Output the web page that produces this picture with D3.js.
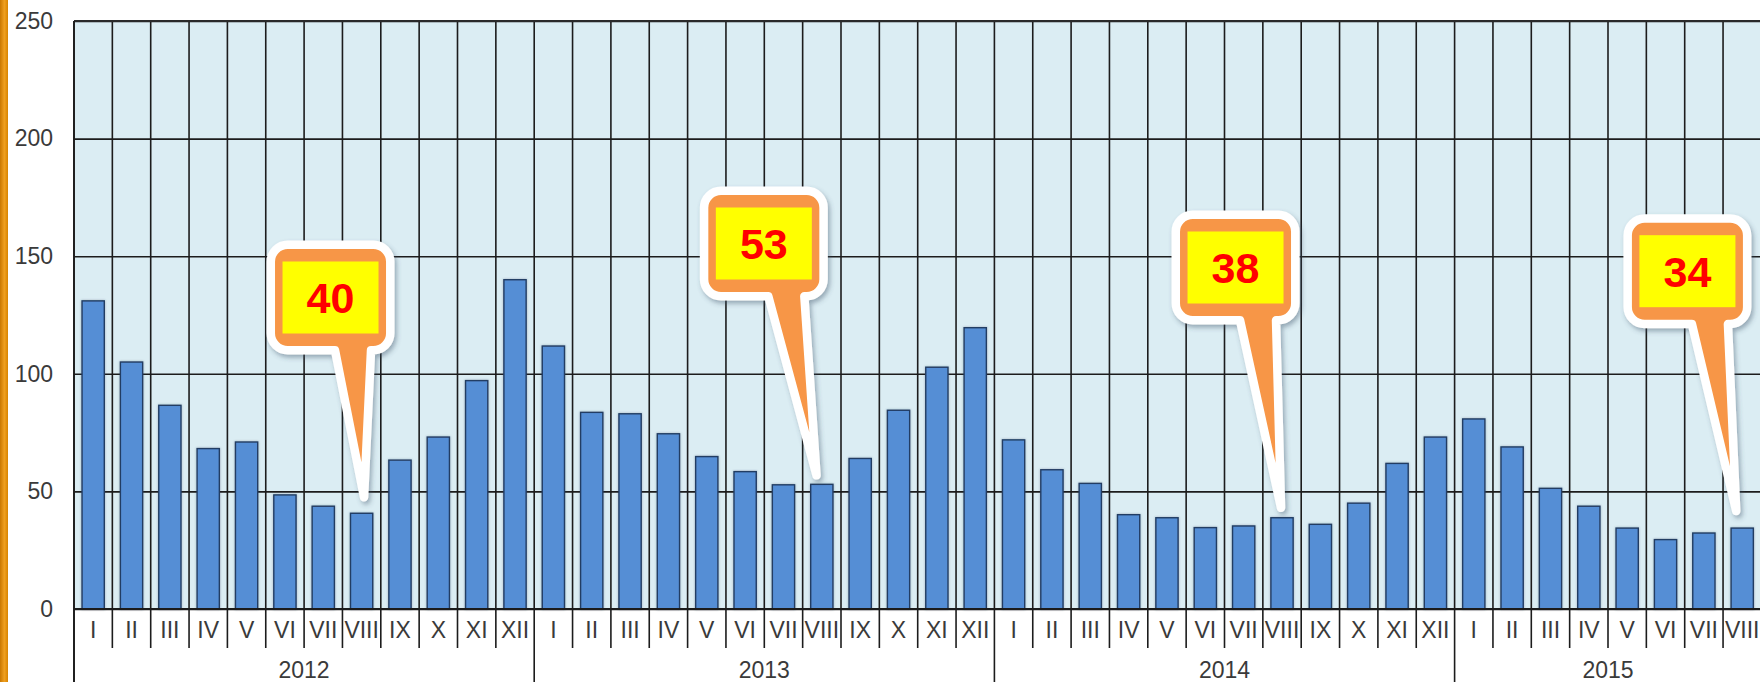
<!DOCTYPE html>
<html><head><meta charset="utf-8">
<script src="https://cdn.jsdelivr.net/npm/d3@7"></script>
<style>html,body{margin:0;padding:0;background:#fff;overflow:hidden}</style>
</head><body>
<svg id="chart" width="1760" height="682"></svg>
<script>
// ---------- data ----------
const years = ["2012", "2013", "2014", "2015"];
const monthLabels = ["I","II","III","IV","V","VI","VII","VIII","IX","X","XI","XII"];
const values2012 = [131, 105, 86.6, 68.2, 71, 48.5, 43.7, 40.7, 63.3, 73.1, 97.1, 140];
const values2013 = [111.8, 83.6, 83, 74.5, 64.8, 58.4, 52.8, 53, 64, 84.5, 102.8, 119.6];
const values2014 = [71.9, 59.2, 53.4, 40.1, 38.8, 34.6, 35.3, 38.8, 36, 45, 61.9, 73.1];
const values2015 = [80.8, 68.9, 51.3, 43.7, 34.4, 29.5, 32.3, 34.4];
const yTicks = [0, 50, 100, 150, 200, 250];
const calloutKeys = ["2012-VIII", "2013-VIII", "2014-VIII", "2015-VIII"];
const calloutTexts = ["40", "53", "38", "34"];

// ---------- build ----------
const series = [values2012, values2013, values2014, values2015];
const data = [];
years.forEach((yr, i) => series[i].forEach((v, m) => data.push({key: yr + "-" + monthLabels[m], year: yr, month: monthLabels[m], value: v})));

const W = 1760, H = 682;
const pLeft = 74, pTop = 21, pBottom = 609, step = 38.35;
const FONT = "'Liberation Sans', Arial, sans-serif";
const TXT = "#3a3a3a";

const x = d3.scaleBand().domain(data.map(d => d.key))
  .range([pLeft, pLeft + step * data.length]).paddingInner(0.42).paddingOuter(0.21);
const y = d3.scaleLinear().domain([0, 250]).range([pBottom, pTop]);
const bound = i => x.range()[0] + i * x.step();

const svg = d3.select("#chart");
const defs = svg.append("defs");
const g1 = defs.append("linearGradient").attr("id", "og").attr("x1", 0).attr("x2", 1).attr("y1", 0).attr("y2", 0);
g1.append("stop").attr("offset", "0%").attr("stop-color", "#c97700");
g1.append("stop").attr("offset", "55%").attr("stop-color", "#f0a020");
g1.append("stop").attr("offset", "100%").attr("stop-color", "#d88400");
const sh = defs.append("filter").attr("id", "shadow").attr("x", "-30%").attr("y", "-30%").attr("width", "160%").attr("height", "160%");
sh.append("feDropShadow").attr("dx", 2).attr("dy", 3).attr("stdDeviation", 2.5).attr("flood-color", "#3d4d66").attr("flood-opacity", 0.45);
const bs = defs.append("filter").attr("id", "barshadow").attr("x", "-20%").attr("y", "-5%").attr("width", "140%").attr("height", "110%");
bs.append("feDropShadow").attr("dx", 0).attr("dy", 0).attr("stdDeviation", 1).attr("flood-color", "#2a3a55").attr("flood-opacity", 0.35);

// left orange strip
svg.append("rect").attr("x", 0).attr("y", 0).attr("width", 8).attr("height", H).attr("fill", "url(#og)");

// plot background
svg.append("rect").attr("x", pLeft).attr("y", pTop).attr("width", W - pLeft).attr("height", pBottom - pTop).attr("fill", "#dbedf3");

// horizontal gridlines + y labels
const yAxis = d3.axisLeft(y).tickValues(yTicks).tickSize(-(W - pLeft)).tickPadding(21);
const ya = svg.append("g").attr("transform", `translate(${pLeft},0)`).call(yAxis);
ya.select(".domain").remove();
ya.selectAll(".tick line").attr("stroke", "#1c1c1c").attr("stroke-width", 1.6);
ya.selectAll(".tick text").attr("fill", TXT).style("font", `23px ${FONT}`);

// vertical gridlines at month boundaries
const bIdx = d3.range(0, data.length + 1);
svg.append("g").selectAll("line").data(bIdx).join("line")
  .attr("x1", d => bound(d)).attr("x2", d => bound(d))
  .attr("y1", pTop).attr("y2", pBottom)
  .attr("stroke", "#1c1c1c").attr("stroke-width", 1.6);

// bars
svg.append("g").selectAll("rect").data(data).join("rect")
  .attr("x", d => x(d.key)).attr("width", x.bandwidth())
  .attr("y", d => y(d.value)).attr("height", d => y(0) - y(d.value))
  .attr("fill", "#558ed5").attr("stroke", "#223d63").attr("stroke-width", 1.4)
  .attr("filter", "url(#barshadow)");

// top border & baseline
svg.append("line").attr("x1", pLeft).attr("x2", W).attr("y1", pTop).attr("y2", pTop).attr("stroke", "#2a2a2a").attr("stroke-width", 2);
svg.append("line").attr("x1", pLeft).attr("x2", W).attr("y1", pBottom).attr("y2", pBottom).attr("stroke", "#1c1c1c").attr("stroke-width", 1.8);
svg.append("line").attr("x1", pLeft).attr("x2", pLeft).attr("y1", pTop).attr("y2", H).attr("stroke", "#1c1c1c").attr("stroke-width", 1.8);

// x axis: month labels
const xAxis = d3.axisBottom(x).tickSize(0).tickPadding(0).tickFormat(k => k.split("-")[1]);
const xa = svg.append("g").attr("transform", `translate(0,${pBottom})`).call(xAxis);
xa.select(".domain").remove();
xa.selectAll(".tick text").attr("fill", TXT).attr("dy", null).attr("y", 29).style("font", `23px ${FONT}`);

// separators: months short, years long
svg.append("g").selectAll("line").data(bIdx).join("line")
  .attr("x1", d => bound(d)).attr("x2", d => bound(d))
  .attr("y1", pBottom).attr("y2", d => d % 12 === 0 ? H : 648)
  .attr("stroke", "#1c1c1c").attr("stroke-width", 1.6);

// year labels
svg.append("g").selectAll("text").data(years).join("text")
  .attr("x", yr => {
    const ks = data.filter(d => d.year === yr).map(d => d.key);
    return (x(ks[0]) + x(ks[ks.length - 1]) + x.bandwidth()) / 2;
  })
  .attr("y", 678).attr("text-anchor", "middle").attr("fill", TXT)
  .style("font", `23px ${FONT}`).text(d => d);

// ---------- callouts ----------
const calloutLayout = [
  {dx: -86.6, boxTop: 249, tipDx: 2.4, tipDy: -16},
  {dx: -113.5, boxTop: 195, tipDx: -5.3, tipDy: -9},
  {dx: -102, boxTop: 219, tipDx: -1, tipDy: -10},
  {dx: -110.3, boxTop: 222.7, tipDx: -6, tipDy: -17}
];
const OW = 111, OH = 97, SW = 8.5, R = 17;
function calloutPath(L, T, w, h, r, b1, b2, tx, ty) {
  return `M${L + r},${T} H${L + w - r} A${r},${r} 0 0 1 ${L + w},${T + r} V${T + h - r} A${r},${r} 0 0 1 ${L + w - r},${T + h}` +
    ` H${L + b2} L${tx},${ty} L${L + b1},${T + h} H${L + r} A${r},${r} 0 0 1 ${L},${T + h - r} V${T + r} A${r},${r} 0 0 1 ${L + r},${T} Z`;
}
const cg = svg.append("g");
calloutKeys.forEach((k, i) => {
  const d = data.find(e => e.key === k);
  const lay = calloutLayout[i];
  const cx = x(k) + x.bandwidth() / 2;
  const oL = cx + lay.dx, oT = lay.boxTop;
  const tx = cx + lay.tipDx, ty = y(d.value) + lay.tipDy;
  const L = oL - SW / 2, T = oT - SW / 2;
  const g = cg.append("g");
  g.append("path").attr("d", calloutPath(L, T, OW + SW, OH + SW, R, SW / 2 + 60, SW / 2 + 96, tx, ty))
    .attr("fill", "#f79646").attr("stroke", "#ffffff").attr("stroke-width", SW)
    .attr("stroke-linejoin", "round").attr("filter", "url(#shadow)");
  g.append("rect").attr("x", oL + 7.5).attr("y", oT + 12.5).attr("width", OW - 15).attr("height", OH - 25).attr("fill", "#ffff00");
  g.append("text").attr("x", oL + OW / 2).attr("y", oT + OH / 2 + 15.5).attr("text-anchor", "middle")
    .attr("fill", "#ff0000").style("font", `bold 43px ${FONT}`).text(calloutTexts[i]);
});
</script>
</body></html>
